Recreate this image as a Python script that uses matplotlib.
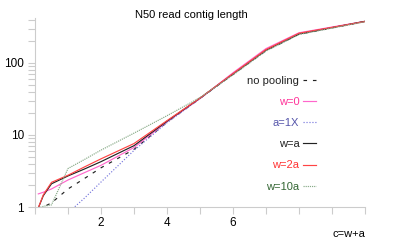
import numpy as np
import matplotlib
matplotlib.use("Agg")
import matplotlib.pyplot as plt
from matplotlib.ticker import LogLocator, NullFormatter

plt.rcParams['font.family'] = ['Liberation Sans', 'DejaVu Sans']
plt.rcParams['font.size'] = 8

# DATA
c = [0.1, 0.25, 0.5, 1, 1.5, 2, 3, 4, 5, 6, 7, 8, 10]
no_pooling = [0.9, 1.0, 1.14, 1.78, 2.49, 3.5, 6.3, 15.0, 32, 70, 148, 250, 375]
w0 = [1.52, 1.6, 1.78, 2.37, 3.0, 3.79, 6.7, 15.2, 32, 73, 158, 262, 378]
a1x = [0.3, 0.4, 0.5, 0.83, 1.33, 2.22, 6.1, 14.8, 32, 70, 150, 255, 376]
w_a = [0.97, 1.43, 2.1, 2.7, 3.37, 4.26, 7.1, 15.5, 32.5, 70, 150, 252, 378]
w2a = [0.97, 1.47, 2.2, 2.76, 3.6, 4.66, 7.6, 15.8, 32.5, 71, 153, 258, 375]
w10a = [0.97, 1.02, 1.07, 3.42, 4.57, 6.16, 10.6, 18.5, 33, 68, 146, 248, 372]

labels = ["no pooling", "w=0", "a=1X", "w=a", "w=2a", "w=10a"]
xtick_vals = list(range(0, 11))
xtick_labels = ["", "", "2", "", "4", "", "6", "", "", "", ""]

# STYLE
series = [no_pooling, w0, a1x, w_a, w2a, w10a]
line_colors = ["#222222", "#ff66cc", "#7777dd", "#222222", "#ff4444", "#88aa88"]
text_colors = ["#222222", "#ff3399", "#5555aa", "#222222", "#ff3333", "#336633"]
styles = [(0, (3, 5)), "-", (0, (1, 1.5)), "-", "-", (0, (1, 0.8))]

fig = plt.figure(figsize=(3.99, 2.46), dpi=100)
ax = fig.add_axes([35/399, 1-207/246, 330/399, 189/246])

for s, col, ls, lab in zip(series, line_colors, styles, labels):
    ax.plot(c, s, color=col, linestyle=ls, linewidth=0.85, label=lab)

ax.set_yscale('log')
ax.set_xlim(0, 10)
ax.set_ylim(1, 420)
ax.set_yticks([1, 10, 100])
ax.set_yticklabels(["1", "10", "100"])
ax.yaxis.set_minor_locator(LogLocator(base=10, subs=np.arange(2, 10)))
ax.yaxis.set_minor_formatter(NullFormatter())
ax.set_xticks(xtick_vals)
ax.set_xticklabels(xtick_labels)

for side in ['top', 'right']:
    ax.spines[side].set_visible(False)
for side in ['left', 'bottom']:
    ax.spines[side].set_color('#cccccc')
ax.tick_params(which='both', color='#cccccc', length=5, width=0.8, labelsize=8.5)
ax.tick_params(axis='x', pad=2)
ax.tick_params(axis='y', pad=3)

fig.text(365/399, 1-234/246, "c=w+a", ha='right', va='center', fontsize=8)
fig.text(191/399, 1-15/246, "N50 read contig length", ha='center', va='center', fontsize=8)

leg = ax.legend(loc='upper right', bbox_to_anchor=(316/399, 1-76/246),
                bbox_transform=fig.transFigure, frameon=False, markerfirst=False,
                borderpad=0, borderaxespad=0, handlelength=1.2, handletextpad=0.3,
                labelspacing=1.0, labelcolor=text_colors, fontsize=8)

fig.savefig("out.png", dpi=100)
